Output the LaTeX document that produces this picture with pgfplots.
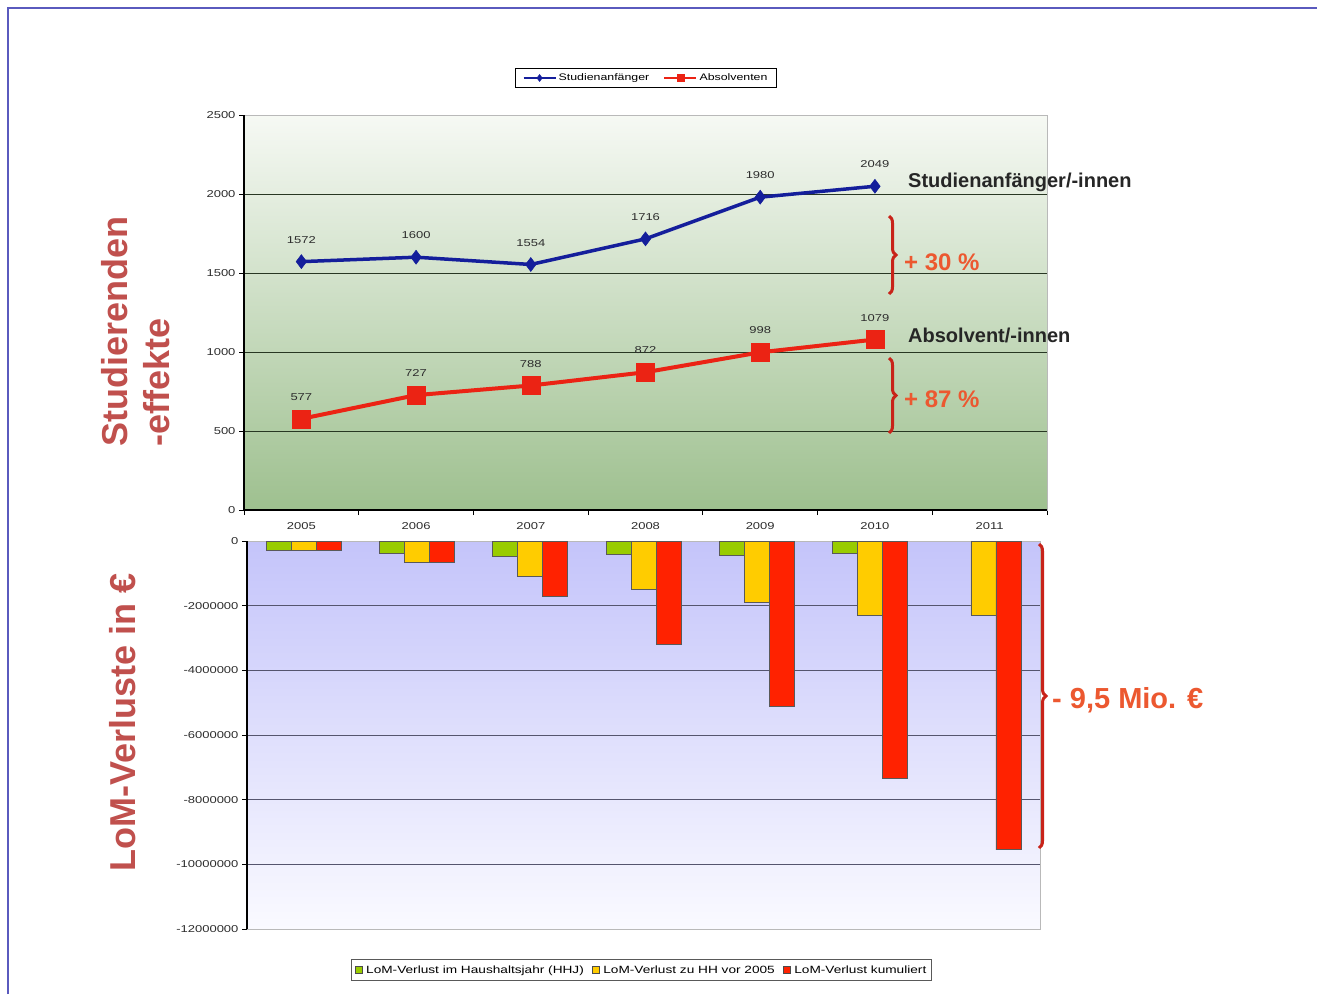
\documentclass[border=0pt]{standalone}
\usepackage{pgfplots}
\pgfplotsset{compat=1.18}
\usepackage{fontspec}
\setmainfont{Liberation Sans}
\newfontfamily\chartfont[FakeStretch=1.3]{Liberation Sans}
\usetikzlibrary{decorations.pathreplacing}
\definecolor{framec}{RGB}{90,90,190}
\definecolor{labred}{RGB}{192,80,77}
\definecolor{annred}{RGB}{236,88,48}
\definecolor{bracered}{RGB}{200,35,25}
\definecolor{blueline}{RGB}{20,30,155}
\definecolor{redline}{RGB}{235,35,20}
\definecolor{bargreen}{RGB}{153,204,0}
\definecolor{baryellow}{RGB}{255,204,0}
\definecolor{barred}{RGB}{255,34,0}
\definecolor{topbgtop}{RGB}{246,249,244}
\definecolor{topbgbot}{RGB}{158,192,143}
\definecolor{botbgtop}{RGB}{196,196,250}
\definecolor{botbgbot}{RGB}{250,250,255}
\definecolor{gridtop}{RGB}{40,55,35}
\definecolor{gridbot}{RGB}{85,85,110}
\definecolor{ticktext}{RGB}{45,45,45}
\begin{document}
\begin{tikzpicture}
\useasboundingbox (0pt,0pt) rectangle (1317pt,-994pt);
\fill[white] (0pt,0pt) rectangle (1317pt,-994pt);
\draw[framec, line width=1.5pt] (8pt,-994pt) -- (8pt,-8pt) -- (1317pt,-8pt);

\begin{axis}[
  at={(244pt,-115pt)}, anchor=north west,
  width=803pt, height=395pt, scale only axis,
  xmin=-0.5, xmax=6.5, ymin=0, ymax=2500,
  xtick={0,...,6}, xticklabels={2005,2006,2007,2008,2009,2010,2011},
  major x tick style={draw=none},
  minor xtick={-0.5,0.5,...,6.5},
  minor x tick style={black, line width=0.8pt},
  minor tick length=5pt,
  ytick={0,500,...,2500},
  major tick length=5pt,
  tick align=outside, tick pos=left,
  ymajorgrids, grid style={gridtop, line width=1pt},
  axis line style={draw=gray!55, line width=0.8pt},
  axis background/.style={shade, top color=topbgtop, bottom color=topbgbot},
  /pgf/number format/assume math mode=true,
  /pgf/number format/1000 sep={},
  ticklabel style={font=\chartfont\fontsize{10}{12}\selectfont, text=ticktext},
  xticklabel style={yshift=-4pt},
  ytick style={black, line width=0.8pt},
  legend style={at={(0.5006,1.0937)}, anchor=center, legend columns=2,
    draw=black, line width=0.8pt, font=\chartfont\fontsize{9.5}{11}\selectfont,
    inner xsep=7pt, inner ysep=3.5pt, /tikz/every even column/.append style={column sep=12pt}},
  legend image code/.code={\draw[mark repeat=2,mark phase=2,#1, mark size=3.5pt, line width=2.2pt] plot coordinates {(0pt,0pt) (16pt,0pt) (32pt,0pt)};},
  nodes near coords,
  every node near coord/.append style={font=\chartfont\fontsize{10}{12}\selectfont, text=ticktext, anchor=south, inner sep=0pt, yshift=18pt},
  clip=false,
]
\addplot[blueline, line width=3.5pt, mark=diamond*, mark size=7pt, mark options={solid, line width=0.5pt}] coordinates {(0,1572)(1,1600)(2,1554)(3,1716)(4,1980)(5,2049)};
\addlegendentry{Studienanfänger}
\addplot[redline, line width=4pt, mark=square*, mark size=9pt, mark options={solid, line width=0.5pt}] coordinates {(0,577)(1,727)(2,788)(3,872)(4,998)(5,1079)};
\addlegendentry{Absolventen}
\draw[black, line width=1.2pt] (rel axis cs:0,1) -- (rel axis cs:0,0) -- (rel axis cs:1,0);
\end{axis}

\begin{axis}[
  at={(247pt,-541pt)}, anchor=north west,
  width=793pt, height=388pt, scale only axis,
  xmin=-0.5, xmax=6.5, ymin=-12000000, ymax=0,
  xtick=\empty,
  ytick={-12000000,-10000000,-8000000,-6000000,-4000000,-2000000,0},
  scaled y ticks=false,
  yticklabel style={/pgf/number format/fixed, /pgf/number format/1000 sep={}},
  major tick length=5pt,
  tick align=outside, tick pos=left,
  ytick style={black, line width=0.8pt},
  ymajorgrids, grid style={gridbot, line width=0.9pt},
  axis line style={draw=gray!55, line width=0.8pt},
  axis background/.style={shade, top color=botbgtop, bottom color=botbgbot},
  /pgf/number format/assume math mode=true,
  ticklabel style={font=\chartfont\fontsize{10}{12}\selectfont, text=ticktext},
  ybar=0pt, bar width=25pt,
  legend style={at={(0.4975,-0.1057)}, anchor=center, legend columns=3,
    draw=gray!70!black, line width=0.8pt, font=\chartfont\fontsize{10.5}{12}\selectfont,
    inner xsep=3pt, inner ysep=4pt, /tikz/every even column/.append style={column sep=6pt},
    /tikz/every odd column/.append style={column sep=2pt}},
  legend image code/.code={\draw[#1, draw=black!70, line width=0.5pt] (0pt,-3.5pt) rectangle (7pt,3.5pt);},
  clip=false,
]
\addplot[fill=bargreen, draw=black!65, line width=0.6pt] coordinates {(0,-290000)(1,-380000)(2,-460000)(3,-410000)(4,-455000)(5,-370000)};
\addlegendentry{LoM-Verlust im Haushaltsjahr (HHJ)}
\addplot[fill=baryellow, draw=black!65, line width=0.6pt] coordinates {(0,-290000)(1,-650000)(2,-1080000)(3,-1490000)(4,-1900000)(5,-2290000)(6,-2290000)};
\addlegendentry{LoM-Verlust zu HH vor 2005}
\addplot[fill=barred, draw=black!65, line width=0.6pt] coordinates {(0,-290000)(1,-650000)(2,-1720000)(3,-3180000)(4,-5100000)(5,-7330000)(6,-9550000)};
\addlegendentry{LoM-Verlust kumuliert}
\draw[black, line width=1.2pt] (rel axis cs:0,1) -- (rel axis cs:0,0);
\end{axis}

% annotations
\node[anchor=west, font=\bfseries\fontsize{20}{24}\selectfont, text=black!85, inner sep=0pt] at (908pt,-182pt) {Studienanfänger/-innen};
\node[anchor=west, font=\bfseries\fontsize{20}{24}\selectfont, text=black!85, inner sep=0pt] at (908pt,-335pt) {Absolvent/-innen};
\draw[bracered, line width=3pt, decorate, decoration={brace, amplitude=7pt}] (889pt,-216pt) -- (889pt,-294pt);
\draw[bracered, line width=3pt, decorate, decoration={brace, amplitude=7pt}] (889pt,-358pt) -- (889pt,-433pt);
\draw[bracered, line width=3pt, decorate, decoration={brace, amplitude=7pt}] (1039pt,-544pt) -- (1039pt,-848pt);
\node[anchor=west, font=\bfseries\fontsize{24}{28}\selectfont, text=annred, inner sep=0pt] at (904pt,-262pt) {+ 30 \%};
\node[anchor=west, font=\bfseries\fontsize{24}{28}\selectfont, text=annred, inner sep=0pt] at (904pt,-399pt) {+ 87 \%};
\node[anchor=west, font=\bfseries\fontsize{29}{34}\selectfont, text=annred, inner sep=0pt] at (1052pt,-700pt) {- 9,5 Mio. €};
\node[rotate=90, anchor=west, font=\bfseries\fontsize{36}{42}\selectfont, text=labred, inner sep=0pt] at (115pt,-447pt) {Studierenden};
\node[rotate=90, anchor=west, font=\bfseries\fontsize{36}{42}\selectfont, text=labred, inner sep=0pt] at (157pt,-447pt) {-effekte};
\node[rotate=90, anchor=center, font=\bfseries\fontsize{36}{42}\selectfont, text=labred, inner sep=0pt] at (123pt,-722pt) {LoM-Verluste in €};
\end{tikzpicture}
\end{document}
